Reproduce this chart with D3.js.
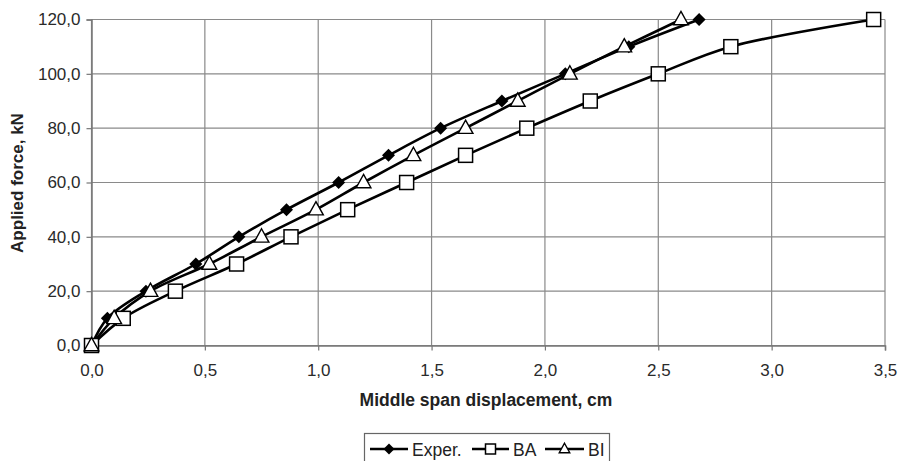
<!DOCTYPE html>
<html>
<head>
<meta charset="utf-8">
<script src="https://cdn.jsdelivr.net/npm/d3@7"></script>
<style>
  body { margin: 0; background: #fff; }
  svg { font-family: "Liberation Sans", Arial, sans-serif; }
</style>
</head>
<body>
<svg id="chart" width="898" height="461"></svg>
<script>
// ----- data -----
const force = [0, 10, 20, 30, 40, 50, 60, 70, 80, 90, 100, 110, 120];
const experDisp = [0, 0.07, 0.24, 0.46, 0.65, 0.86, 1.09, 1.31, 1.54, 1.81, 2.09, 2.37, 2.68];
const baDisp = [0, 0.14, 0.37, 0.64, 0.88, 1.13, 1.39, 1.65, 1.92, 2.20, 2.50, 2.82, 3.45];
const biDisp = [0, 0.10, 0.26, 0.52, 0.75, 0.99, 1.20, 1.42, 1.65, 1.88, 2.11, 2.35, 2.60];
const series = [
  { name: "Exper.", marker: "diamond", x: experDisp },
  { name: "BA", marker: "square", x: baDisp },
  { name: "BI", marker: "triangle", x: biDisp }
];
const xTicks = [0, 0.5, 1, 1.5, 2, 2.5, 3, 3.5];
const yTicks = [0, 20, 40, 60, 80, 100, 120];

const svg = d3.select("#chart");
const pLeft = 91.5, pRight = 885, pTop = 19.5, pBottom = 345.5;

const x = d3.scaleLinear().domain([0, 3.5]).range([pLeft, pRight]);
const y = d3.scaleLinear().domain([0, 120]).range([pBottom, pTop]);
const fmt = (d, n) => d.toFixed(n).replace(".", ",");

// grid
const grid = svg.append("g").attr("stroke", "#8a8a8a").attr("stroke-width", 1.2);
grid.selectAll("line.h").data(yTicks).join("line")
  .attr("x1", pLeft).attr("x2", pRight)
  .attr("y1", d => y(d)).attr("y2", d => y(d));
grid.selectAll("line.v").data(xTicks).join("line")
  .attr("y1", pTop).attr("y2", pBottom)
  .attr("x1", d => x(d)).attr("x2", d => x(d));

// axes
const xAxis = svg.append("g").attr("transform", `translate(0,${pBottom})`)
  .call(d3.axisBottom(x).tickValues(xTicks).tickFormat(d => fmt(d, 1)).tickSize(5).tickPadding(13));
const yAxis = svg.append("g").attr("transform", `translate(${pLeft},0)`)
  .call(d3.axisLeft(y).tickValues(yTicks).tickFormat(d => fmt(d, 1)).tickSize(5).tickPadding(6));
[xAxis, yAxis].forEach(a => {
  a.select(".domain").attr("stroke", "#777").attr("stroke-width", 1.5);
  a.selectAll(".tick line").attr("stroke", "#777").attr("stroke-width", 1.2);
  a.selectAll("text").attr("font-size", 17).attr("fill", "#2a2a2a")
    .attr("font-family", "Liberation Sans, Arial, sans-serif");
});

// titles
svg.append("text").attr("x", 486).attr("y", 406)
  .attr("text-anchor", "middle").attr("font-size", 17.5).attr("font-weight", "bold")
  .attr("fill", "#222").text("Middle span displacement, cm");
svg.append("text").attr("transform", `translate(23,183) rotate(-90)`)
  .attr("text-anchor", "middle").attr("font-size", 17).attr("font-weight", "bold")
  .attr("fill", "#222").text("Applied force, kN");

// markers
function drawMarker(sel, kind, s) {
  if (kind === "diamond") {
    sel.append("path").attr("d", `M0,${-s}L${s},0L0,${s}L${-s},0Z`).attr("fill", "#000");
  } else if (kind === "square") {
    sel.append("rect").attr("x", -s).attr("y", -s).attr("width", 2 * s).attr("height", 2 * s)
      .attr("fill", "#fff").attr("stroke", "#000").attr("stroke-width", 1.5);
  } else {
    sel.append("path").attr("d", `M0,${-s * 1.15}L${s * 1.05},${s * 0.75}L${-s * 1.05},${s * 0.75}Z`)
      .attr("fill", "#fff").attr("stroke", "#000").attr("stroke-width", 1.4);
  }
}

const line = d3.line().curve(d3.curveCatmullRom.alpha(0.5));
const plot = svg.append("g");
series.forEach(s => {
  const pts = s.x.map((v, i) => [x(v), y(force[i])]);
  plot.append("path").attr("d", line(pts)).attr("fill", "none")
    .attr("stroke", "#000").attr("stroke-width", 2.6);
});
series.forEach(s => {
  s.x.forEach((v, i) => {
    const g = plot.append("g").attr("transform", `translate(${x(v)},${y(force[i])})`);
    drawMarker(g, s.marker, s.marker === "diamond" ? 6.5 : 7);
  });
});

// legend
const lg = svg.append("g");
lg.append("rect").attr("x", 364.5).attr("y", 433.5).attr("width", 245).attr("height", 40)
  .attr("fill", "#fff").attr("stroke", "#666").attr("stroke-width", 1.2);
const items = [
  { s: series[0], x0: 370, w: 38 },
  { s: series[1], x0: 472, w: 37 },
  { s: series[2], x0: 545, w: 39 }
];
items.forEach(it => {
  const cy = 449;
  lg.append("line").attr("x1", it.x0).attr("x2", it.x0 + it.w).attr("y1", cy).attr("y2", cy)
    .attr("stroke", "#000").attr("stroke-width", 2.4);
  const g = lg.append("g").attr("transform", `translate(${it.x0 + it.w / 2},${cy})`);
  drawMarker(g, it.s.marker, it.s.marker === "diamond" ? 5.5 : 5);
  lg.append("text").attr("x", it.x0 + it.w + 4).attr("y", cy + 6.5).attr("font-size", 17.5)
    .attr("fill", "#222").text(it.s.name);
});
</script>
</body>
</html>
